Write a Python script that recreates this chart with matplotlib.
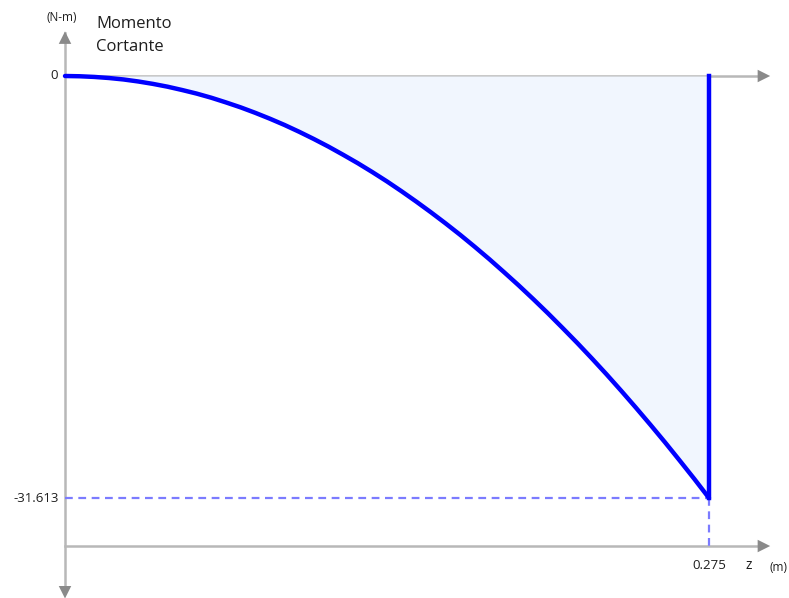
import matplotlib
import matplotlib.pyplot as plt

matplotlib.use('Agg')

# bending moment along the beam
z_values = [0.0, 0.00625, 0.0125, 0.01875, 0.025, 0.03125, 0.0375, 0.04375, 0.05,
            0.05625, 0.0625, 0.06875, 0.075, 0.08125, 0.0875, 0.09375, 0.1,
            0.10625, 0.1125, 0.11875, 0.125, 0.13125, 0.1375, 0.14375, 0.15,
            0.15625, 0.1625, 0.16875, 0.175, 0.18125, 0.1875, 0.19375, 0.2,
            0.20625, 0.2125, 0.21875, 0.225, 0.23125, 0.2375, 0.24375, 0.25,
            0.25625, 0.2625, 0.26875, 0.275]
m_values = [0.0, -0.02, -0.07, -0.15, -0.26, -0.41, -0.59, -0.80, -1.05,
            -1.32, -1.63, -1.98, -2.35, -2.76, -3.20, -3.67, -4.18,
            -4.72, -5.29, -5.90, -6.53, -7.20, -7.90, -8.64, -9.41,
            -10.21, -11.04, -11.90, -12.80, -13.73, -14.70, -15.69, -16.72,
            -17.78, -18.88, -20.00, -21.16, -22.35, -23.58, -24.84, -26.13,
            -27.45, -28.81, -30.19, -31.613]
z_label = '0.275'
m_label = '-31.613'

z_end = z_values[-1]
m_min = m_values[-1]

plt.rcParams['font.family'] = ['Open Sans', 'DejaVu Sans']
fig = plt.figure(figsize=(7.89, 5.98), dpi=100)
ax = fig.add_axes([0, 0, 1, 1])
ax.set_axis_off()
ax.set_xlim(-0.02776, 0.30916)
ax.set_ylim(-39.104, 5.693)

axis_col = '#b8b8b8'
head_col = '#8a8a8a'
txt_col = '#1e1e1e'
x_tip = 0.3023
base_y = -35.21

# axes lines with arrow heads
ax.plot([0, x_tip - 0.004], [0, 0], color=axis_col, lw=1.8, zorder=1)
ax.plot([0, x_tip - 0.004], [base_y, base_y], color=axis_col, lw=1.8, zorder=1)
ax.plot([0, 0], [3.2, -38.5], color=axis_col, lw=1.8, zorder=1)
arrow = dict(arrowstyle='-|>,head_length=0.9,head_width=0.45', color=head_col, lw=0)
ax.annotate('', xy=(x_tip, 0), xytext=(x_tip - 0.01, 0), arrowprops=arrow)
ax.annotate('', xy=(x_tip, base_y), xytext=(x_tip - 0.01, base_y), arrowprops=arrow)
ax.annotate('', xy=(0, 3.55), xytext=(0, 2.0), arrowprops=arrow)
ax.annotate('', xy=(0, -39.35), xytext=(0, -37.5), arrowprops=arrow,
            annotation_clip=False)

# diagram
ax.fill_between(z_values, m_values, 0, color='#f1f6fe', lw=0, zorder=2)
ax.plot(z_values, m_values, color='#0000ff', lw=3.2, solid_capstyle='round',
        solid_joinstyle='round', zorder=4)
ax.plot([z_end, z_end], [0, m_min], color='#0000ff', lw=3.2, zorder=4)

# guide lines
dash = dict(color='#7b7bff', lw=1.6, dashes=(3.5, 2.5), zorder=3)
ax.plot([0, z_end], [m_min, m_min], **dash)
ax.plot([z_end, z_end], [m_min, base_y], **dash)

# labels
ax.text(-0.0032, 0, '0', ha='right', va='center', fontsize=9.5, color=txt_col)
ax.text(-0.0028, m_min, m_label, ha='right', va='center', fontsize=9.5, color=txt_col)
ax.text(z_end, base_y - 1.45, z_label, ha='center', va='center', fontsize=9.5,
        color=txt_col)
ax.text(0.2921, base_y - 1.45, 'z', ha='center', va='center', fontsize=10,
        color=txt_col)
ax.text(0.3045, base_y - 1.6, '(m)', ha='center', va='center', fontsize=8.5,
        color=txt_col)
ax.text(-0.0015, 4.4, '(N-m)', ha='center', va='center', fontsize=8.5, color=txt_col)
ax.text(0.0132, 3.9, 'Momento', ha='left', va='center', fontsize=12, color=txt_col)
ax.text(0.0132, 2.15, 'Cortante', ha='left', va='center', fontsize=12, color=txt_col)

plt.savefig('out.png')
plt.close()
